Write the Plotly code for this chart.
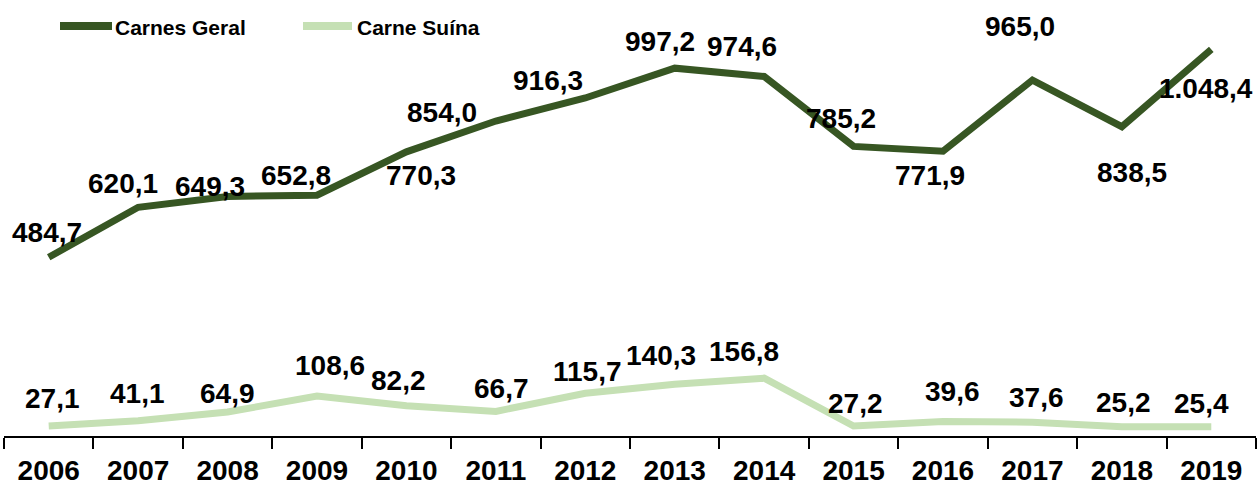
import plotly.graph_objects as go

# ---- data ----
years = [str(y) for y in range(2006, 2020)]
series_names = ["Carnes Geral", "Carne Suína"]
carnes_geral = [484.7, 620.1, 649.3, 652.8, 770.3, 854.0, 916.3, 997.2, 974.6,
                785.2, 771.9, 965.0, 838.5, 1048.4]
carne_suina = [27.1, 41.1, 64.9, 108.6, 82.2, 66.7, 115.7, 140.3, 156.8,
               27.2, 39.6, 37.6, 25.2, 25.4]

# ---- style ----
DARK = "#375623"
LIGHT = "#C5E0B4"
FONT = "Liberation Sans, Arial, sans-serif"
W, H = 1257, 488
ML, MR, MT, MB = 4, 1, 0, 52

# label offsets in pixels (dx right, dy down) relative to the point
geral_off = [(-2, -25), (-15, -24), (-18, -10), (-21, -20), (15, 24), (-54, -8),
             (-37, -18), (-15, -27), (-22, -30), (-13, -28), (-13, 24), (-12, -54),
             (10, 46), (-5, 39)]
suina_off = [(4, -28), (-1, -27), (0, -19), (13, -30), (-8, -25), (6, -23),
             (2, -22), (-14, -29), (-20, -27), (2, -22), (9, -30), (4, -25),
             (2, -24), (-10, -23)]


def fmt(v):
    s = f"{v:,.1f}"
    return s.replace(",", "X").replace(".", ",").replace("X", ".")


fig = go.Figure()
fig.add_trace(go.Scatter(x=years, y=carnes_geral, mode="lines", name=series_names[0],
                         line=dict(color=DARK, width=7), showlegend=False))
fig.add_trace(go.Scatter(x=years, y=carne_suina, mode="lines", name=series_names[1],
                         line=dict(color=LIGHT, width=7), showlegend=False))

annotations = []
for vals, offs in ((carnes_geral, geral_off), (carne_suina, suina_off)):
    for i, (v, (dx, dy)) in enumerate(zip(vals, offs)):
        annotations.append(dict(x=i, y=v, xref="x", yref="y", text=fmt(v),
                                showarrow=False, xshift=dx, yshift=-dy,
                                font=dict(family=FONT, size=28, color="black", weight="bold")))

# manual legend
pw = W - ML - MR
ph = H - MT - MB


def px2paper(px, py):
    return (px - ML) / pw, (H - MB - py) / ph


shapes = []
legend_items = [(60, 112, 113, DARK, series_names[0]), (303, 352, 355, LIGHT, series_names[1])]
for x0, x1, xt, col, name in legend_items:
    a0, b0 = px2paper(x0, 26)
    a1, _ = px2paper(x1, 26)
    shapes.append(dict(type="line", xref="paper", yref="paper", x0=a0, x1=a1, y0=b0, y1=b0,
                       line=dict(color=col, width=8)))
    tx, ty = px2paper(xt, 27)
    annotations.append(dict(x=tx, y=ty, xref="paper", yref="paper", text=name,
                            showarrow=False, xanchor="left", yanchor="middle",
                            font=dict(family=FONT, size=21, color="black", weight="bold")))

fig.update_layout(
    width=W, height=H,
    margin=dict(l=ML, r=MR, t=MT, b=MB),
    paper_bgcolor="white", plot_bgcolor="white",
    annotations=annotations, shapes=shapes,
    showlegend=False,
)
fig.update_xaxes(type="category", range=[-0.5, 13.5], tickson="boundaries",
                 ticks="outside", ticklen=11, tickwidth=1.5, tickcolor="black",
                 showline=True, linecolor="black", linewidth=1.5, showgrid=False,
                 zeroline=False, automargin=False, ticklabelstandoff=9,
                 tickfont=dict(family=FONT, size=28, color="black", weight="bold"))
fig.update_yaxes(range=[0, 1182], visible=False, showgrid=False, zeroline=False,
                 automargin=False)

fig.write_html("out.html", config={"displayModeBar": False},
               post_script="document.body.style.margin='0';document.body.style.overflow='hidden';")
